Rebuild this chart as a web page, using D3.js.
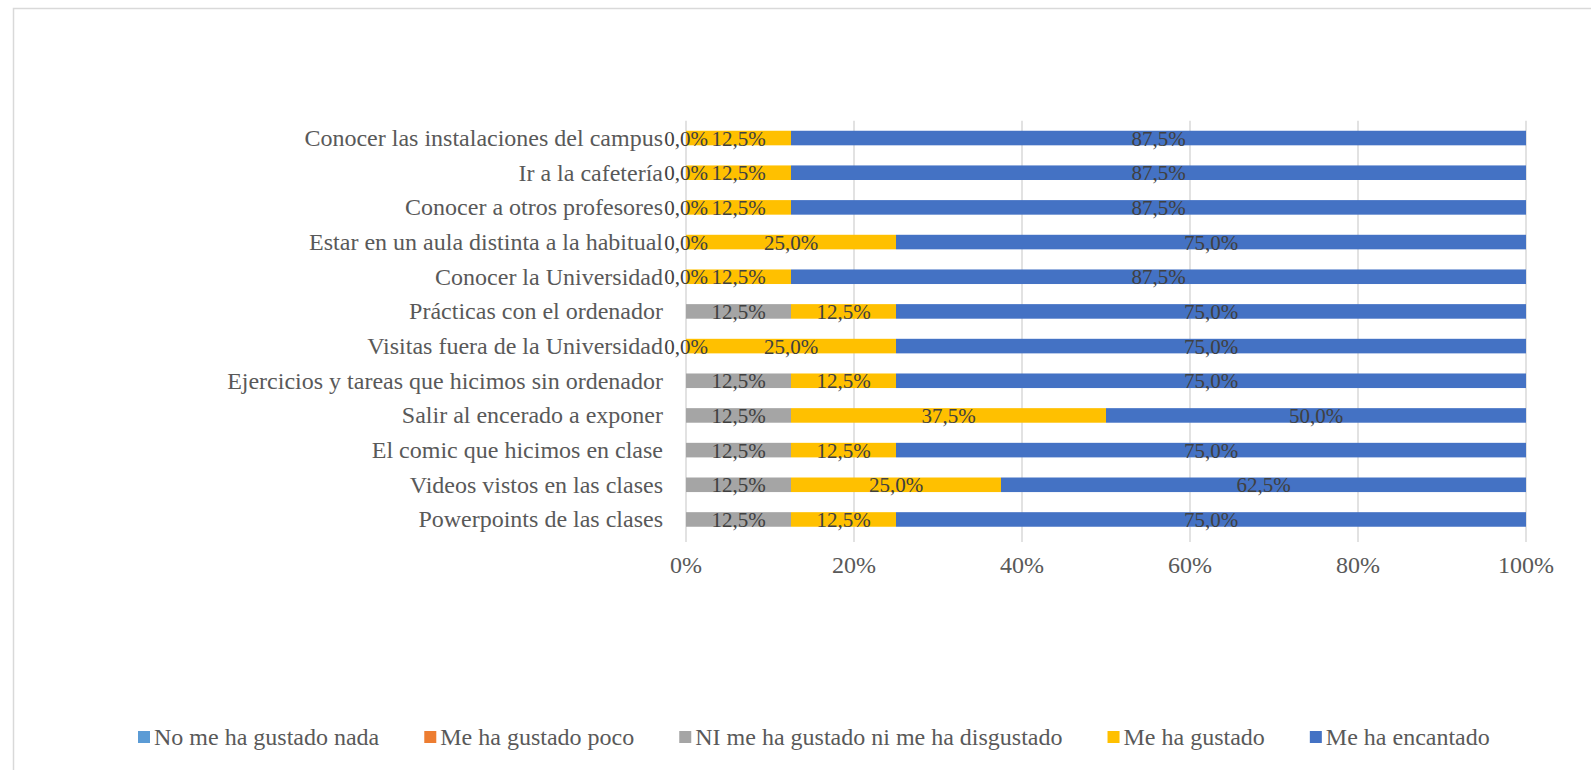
<!DOCTYPE html>
<html><head><meta charset="utf-8">
<script src="https://cdn.jsdelivr.net/npm/d3@7/dist/d3.min.js"></script>
<style>html,body{margin:0;padding:0;background:#fff;}svg{display:block;font-family:"Liberation Serif","Times New Roman",serif;}</style>
</head><body><svg id="c" width="1591" height="770"></svg>
<script>
const categories = [
  "Conocer las instalaciones del campus",
  "Ir a la cafetería",
  "Conocer a otros profesores",
  "Estar en un aula distinta a la habitual",
  "Conocer la Universidad",
  "Prácticas con el ordenador",
  "Visitas fuera de la Universidad",
  "Ejercicios y tareas que hicimos sin ordenador",
  "Salir al encerado a exponer",
  "El comic que hicimos en clase",
  "Videos vistos en las clases",
  "Powerpoints de las clases"
];
const seriesNames = ["No me ha gustado nada","Me ha gustado poco","NI me ha gustado ni me ha disgustado","Me ha gustado","Me ha encantado"];
const nada      = [null,null,null,null,null,null,null,null,null,null,null,null];
const poco      = [null,null,null,null,null,null,null,null,null,null,null,null];
const neutral   = [0,0,0,0,0,12.5,0,12.5,12.5,12.5,12.5,12.5];
const gustado   = [12.5,12.5,12.5,25,12.5,12.5,25,12.5,37.5,12.5,25,12.5];
const encantado = [87.5,87.5,87.5,75,87.5,75,75,75,50,75,62.5,75];
const xTicks = [0,20,40,60,80,100];
const colors = ["#5B9BD5","#ED7D31","#A5A5A5","#FFC000","#4472C4"];

const seriesData = [nada,poco,neutral,gustado,encantado];
const svg = d3.select("#c");

// chart border
svg.append("rect").attr("x",13.5).attr("y",8.5).attr("width",1700).attr("height",900)
  .attr("fill","none").attr("stroke","#D9D9D9").attr("stroke-width",1.5);

const x = d3.scaleLinear().domain([0,100]).range([686,1526]);
const y = d3.scaleBand().domain(categories).range([120.7,536.8]).padding(0);
const barH = y.bandwidth()*0.42;

// gridlines
svg.append("g").selectAll("line").data(xTicks).join("line")
  .attr("x1",d=>x(d)).attr("x2",d=>x(d)).attr("y1",120.7).attr("y2",542)
  .attr("stroke","#D9D9D9").attr("stroke-width",1.5);

// stacked bars
const fmt = v => d3.format(".1f")(v).replace(".",",")+"%";
const startOf = (si,i) => { let s=0; for (let k=0;k<si;k++){ const w=seriesData[k][i]; if (w!==null) s+=w; } return s; };
seriesData.forEach((vals,si)=>{
  const g = svg.append("g");
  categories.forEach((c,i)=>{
    const v = vals[i];
    if (v===null) return;
    const start = startOf(si,i);
    g.append("rect").attr("x",x(start)).attr("y",y(c)+(y.bandwidth()-barH)/2)
      .attr("width",x(start+v)-x(start)).attr("height",barH).attr("fill",colors[si]);
  });
});
// labels
seriesData.forEach((vals,si)=>{
  categories.forEach((c,i)=>{
    const v = vals[i];
    if (v===null) return;
    const start = startOf(si,i);
    svg.append("text").attr("x",x(start+v/2)).attr("y",y(c)+y.bandwidth()/2+0.5)
      .attr("text-anchor","middle").attr("dominant-baseline","central")
      .attr("font-size",21).attr("fill","#404040").text(fmt(v));
  });
});

// category labels
svg.append("g").selectAll("text").data(categories).join("text")
  .attr("x",663).attr("y",d=>y(d)+y.bandwidth()/2)
  .attr("text-anchor","end").attr("dominant-baseline","central")
  .attr("font-size",24).attr("fill","#595959").text(d=>d);

// x axis labels
svg.append("g").selectAll("text").data(xTicks).join("text")
  .attr("x",d=>x(d)).attr("y",565).attr("text-anchor","middle").attr("dominant-baseline","central")
  .attr("font-size",24).attr("fill","#595959").text(d=>d+"%");

// legend
const leg = svg.append("g");
let lx = 138;
seriesNames.forEach((n,i)=>{
  leg.append("rect").attr("x",lx).attr("y",731).attr("width",12).attr("height",12).attr("fill",colors[i]);
  const t = leg.append("text").attr("x",lx+16).attr("y",737).attr("dominant-baseline","central")
    .attr("font-size",24).attr("fill","#595959").text(n);
  lx += 16 + t.node().getComputedTextLength() + 45;
});
</script></body></html>
